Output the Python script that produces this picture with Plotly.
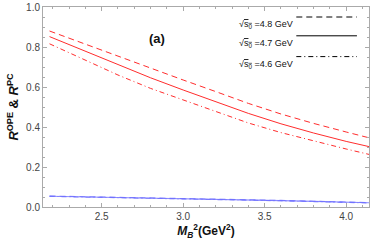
import plotly.graph_objects as go

mb2 = [2.18, 2.4, 2.6, 2.8, 3.0, 3.2, 3.4, 3.6, 3.8, 4.0, 4.14]
r_48 = [0.880, 0.814, 0.752, 0.695, 0.635, 0.577, 0.518, 0.465, 0.418, 0.375, 0.346]
r_47 = [0.852, 0.778, 0.712, 0.646, 0.585, 0.528, 0.468, 0.416, 0.370, 0.328, 0.302]
r_46 = [0.816, 0.735, 0.660, 0.593, 0.535, 0.478, 0.420, 0.372, 0.330, 0.290, 0.263]
pc_48 = [0.055, 0.052, 0.049, 0.046, 0.043, 0.040, 0.036, 0.033, 0.029, 0.025, 0.022]
pc_47 = [0.054, 0.051, 0.048, 0.045, 0.042, 0.039, 0.035, 0.032, 0.028, 0.024, 0.021]
pc_46 = [0.053, 0.050, 0.047, 0.044, 0.041, 0.038, 0.034, 0.031, 0.027, 0.023, 0.020]
y_ticks = [0.0, 0.2, 0.4, 0.6, 0.8, 1.0]
legend_labels = ["=4.8 GeV", "=4.7 GeV", "=4.6 GeV"]
styles = ["6px,4px", "solid", "5px,3px,1px,3px"]

RED = "rgb(255,45,45)"
BLUE = "rgba(110,110,255,0.8)"

fig = go.Figure()
for ys, st in zip([r_48, r_47, r_46], styles):
    fig.add_trace(go.Scatter(x=mb2, y=ys, mode="lines", line=dict(color=RED, width=1, dash=st), showlegend=False))
for ys, st in zip([pc_48, pc_47, pc_46], styles):
    fig.add_trace(go.Scatter(x=mb2, y=ys, mode="lines", line=dict(color=BLUE, width=1.1, dash=st), showlegend=False))

FONT = "Liberation Sans, Arial, sans-serif"
axis_common = dict(
    showline=True, linecolor="#aaaaaa", linewidth=1, mirror="ticks",
    ticks="inside", ticklen=4, tickcolor="#aaaaaa", showgrid=False, zeroline=False,
    tickfont=dict(family=FONT, size=10, color="#444444"), ticklabeloverflow="allow",
)
fig.update_xaxes(range=[2.14, 4.14], tick0=2.5, dtick=0.5, tickformat=".1f",
                 minor=dict(ticks="inside", ticklen=2, dtick=0.1, tick0=2.0, tickcolor="#aaaaaa"),
                 title=dict(text="<b><i>M</i><sub><i>B</i></sub><sup>2</sup>(GeV<sup>2</sup>)</b>",
                            font=dict(family=FONT, size=12, color="#111111"), standoff=4),
                 **axis_common)
fig.update_yaxes(range=[0, 1.0], tickmode="array", tickvals=y_ticks, ticktext=[f"{v:.1f}" for v in y_ticks],
                 minor=dict(ticks="inside", ticklen=2, dtick=0.05, tick0=0, tickcolor="#aaaaaa"),
                 title=dict(text="<b><i>R</i><sup>OPE</sup> & <i>R</i><sup>PC</sup></b>",
                            font=dict(family=FONT, size=13, color="#111111"), standoff=4),
                 **axis_common)

fig.add_annotation(x=0.318, y=0.89, xref="paper", yref="paper", text="<b>(a)</b>", showarrow=False,
                   font=dict(family=FONT, size=13, color="#111111"))
rows_y = [0.95, 0.856, 0.752]
for lab, st, yy in zip(legend_labels, styles, rows_y):
    fig.add_annotation(x=0.772, y=yy, xref="paper", yref="paper", xanchor="right", showarrow=False,
                       text="√<span style='text-decoration:overline'>s<sub>0</sub></span> " + lab,
                       font=dict(family=FONT, size=9, color="#111111"))
    fig.add_shape(type="line", xref="paper", yref="paper", x0=0.777, x1=0.963, y0=yy, y1=yy,
                  line=dict(color="black", width=1, dash=st))

fig.update_layout(width=371, height=247, margin=dict(l=43, r=1, t=5, b=40),
                  paper_bgcolor="white", plot_bgcolor="white", showlegend=False)
fig.write_html("out.html", config={"displayModeBar": False},
               post_script="document.body.style.margin='0';document.body.style.overflow='hidden';")
